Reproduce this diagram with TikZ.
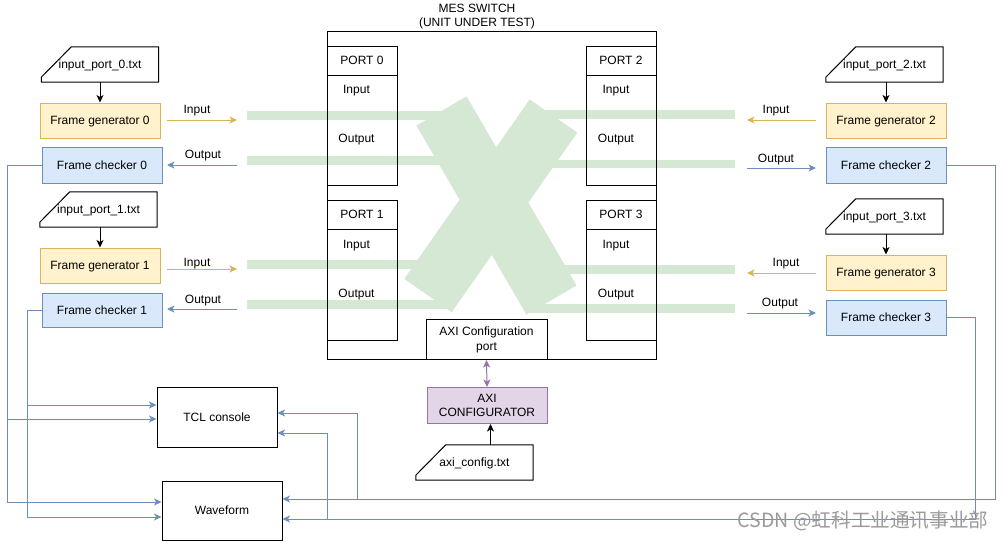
\documentclass[tikz,border=0pt]{standalone}
\usepackage{fontspec}
\setmainfont{Liberation Sans}
\newfontfamily\cjkfont{Noto Sans CJK SC}
\usetikzlibrary{arrows.meta,calc}
\definecolor{ylwfill}{HTML}{FFF2CC}
\definecolor{ylwline}{HTML}{D6B656}
\definecolor{bluefill}{HTML}{DAE8FC}
\definecolor{blueline}{HTML}{6C8EBF}
\definecolor{purfill}{HTML}{E1D5E7}
\definecolor{purline}{HTML}{9673A6}
\definecolor{xgreen}{HTML}{D5E8D4}
\definecolor{wmgray}{HTML}{9A9A9A}
\tikzset{
  oneline/.style={text height=11pt, text depth=2.4pt},
  box/.style={draw, line width=1pt, inner sep=0pt, align=center},
  genbox/.style={box, oneline, draw=ylwline, fill=ylwfill, minimum width=120pt, minimum height=35pt},
  chkbox/.style={box, oneline, draw=blueline, fill=bluefill, minimum width=120pt, minimum height=35pt},
  filebox/.style={oneline, inner sep=0pt, minimum width=117pt, minimum height=35pt},
  tip/.style={-{Stealth[length=7.5pt,width=7pt,inset=2pt]}},
  blk/.style={tip, line width=1pt, draw=black},
  yarr/.style={tip, line width=1pt, draw=ylwline, color=ylwline},
  barr/.style={tip, line width=1pt, draw=blueline, color=blueline},
  lbl/.style={inner sep=0pt, oneline},
}
\begin{document}
\begin{tikzpicture}[x=1pt,y=-1pt,font=\fontsize{12}{14}\selectfont]
\useasboundingbox[fill=white] (0,0) rectangle (1004,541);

% ---- green crossbar (decoration) ----
\fill[xgreen] (247,111) rectangle (460,120);
\fill[xgreen] (247,156) rectangle (450,165);
\fill[xgreen] (247,260) rectangle (440,269);
\fill[xgreen] (247,300) rectangle (450,309);
\fill[xgreen] (530,110) rectangle (735,119);
\fill[xgreen] (540,160) rectangle (735,168);
\fill[xgreen] (540,265) rectangle (735,274);
\fill[xgreen] (530,304) rectangle (735,313);
\draw[xgreen, line width=58pt] (441.5,111) -- (551.5,300);
\draw[xgreen, line width=58pt] (553.5,116) -- (428,295.5);

% ---- switch ----
\node[box, minimum width=329pt, minimum height=328pt] (sw) at (491.5,195) {};
\node[inner sep=0pt, align=center] (title) at (477,17) {MES SWITCH\\(UNIT UNDER TEST)};

\node[box, oneline, minimum width=70pt, minimum height=29pt] (p0h) at (362,60.5) {PORT 0};
\node[box, minimum width=70pt, minimum height=110pt] (p0b) at (362,130) {};
\node[box, oneline, minimum width=70pt, minimum height=29pt] (p1h) at (362,214.5) {PORT 1};
\node[box, minimum width=70pt, minimum height=111pt] (p1b) at (362,284.5) {};
\node[box, oneline, minimum width=70pt, minimum height=29pt] (p2h) at (621,60.5) {PORT 2};
\node[box, minimum width=70pt, minimum height=110pt] (p2b) at (621,130) {};
\node[box, oneline, minimum width=70pt, minimum height=29pt] (p3h) at (621,214.5) {PORT 3};
\node[box, minimum width=70pt, minimum height=111pt] (p3b) at (621,284.5) {};

\node[lbl] (p0i) at (356.5,89) {Input};
\node[lbl] (p0o) at (356.5,138) {Output};
\node[lbl] (p1i) at (356.5,244) {Input};
\node[lbl] (p1o) at (356.5,293) {Output};
\node[lbl] (p2i) at (616,89) {Input};
\node[lbl] (p2o) at (616,138) {Output};
\node[lbl] (p3i) at (616,244) {Input};
\node[lbl] (p3o) at (616,293) {Output};

\node[box, fill=white, minimum width=121pt, minimum height=40pt, font=\fontsize{12}{15}\selectfont] (axp) at (486.5,339.5) {AXI Configuration\\port};
\node[box, draw=purline, fill=purfill, minimum width=120pt, minimum height=36pt, font=\fontsize{12}{13.5}\selectfont] (axi) at (487,405.5) {AXI\\CONFIGURATOR};
\draw[line width=1pt, draw=purline, {Stealth[length=7.5pt,width=7pt,inset=2pt]}-{Stealth[length=7.5pt,width=7pt,inset=2pt]}, color=purline] (axp.south) -- (axi.north);

% ---- files ----
\node[filebox] (f0) at (100,64.5) {input\_port\_0.txt};
\node[filebox] (f1) at (98.5,209.5) {input\_port\_1.txt};
\node[filebox] (f2) at (884.5,64.5) {input\_port\_2.txt};
\node[filebox] (f3) at (884.5,216.5) {input\_port\_3.txt};
\node[filebox] (fa) at (474.5,462.5) {axi\_config.txt};
\foreach \f in {f0,f1,f2,f3,fa}
  \draw[line width=1pt] ($(\f.north west)+(30,0)$) -- (\f.north east) -- (\f.south east) -- (\f.south west) -- ($(\f.south west)+(0,-5)$) -- cycle;

% ---- generators / checkers ----
\node[genbox] (fg0) at (100,120.5) {Frame generator 0};
\node[chkbox, minimum height=36pt] (fc0) at (102,165) {Frame checker 0};
\node[genbox] (fg1) at (100,265.5) {Frame generator 1};
\node[chkbox, minimum height=34pt] (fc1) at (102,310) {Frame checker 1};
\node[genbox] (fg2) at (886,120.5) {Frame generator 2};
\node[chkbox, minimum height=36pt] (fc2) at (886,165) {Frame checker 2};
\node[genbox] (fg3) at (886,272.5) {Frame generator 3};
\node[chkbox] (fc3) at (886,317.5) {Frame checker 3};

\draw[blk] (f0.south) -- (fg0.north);
\draw[blk] (f1.south -| fg1.north) -- (fg1.north);
\draw[blk] (f2.south -| fg2.north) -- (fg2.north);
\draw[blk] (f3.south -| fg3.north) -- (fg3.north);
\coordinate (axin) at ($(axi.south)+(3.5,0)$);
\draw[blk] (fa.north -| axin) -- (axin);

% ---- input / output arrows ----
\coordinate (a0s) at (167,120); \coordinate (a0e) at (237,120);
\coordinate (b0s) at (237,165); \coordinate (b0e) at (167,165);
\coordinate (a1s) at (167,269); \coordinate (a1e) at (237,269);
\coordinate (b1s) at (237,309); \coordinate (b1e) at (167,309);
\coordinate (a2s) at (816,120); \coordinate (a2e) at (747,120);
\coordinate (b2s) at (747,168); \coordinate (b2e) at (816,168);
\coordinate (a3s) at (816,273); \coordinate (a3e) at (747,273);
\coordinate (b3s) at (747,313); \coordinate (b3e) at (816,313);
\draw[yarr] (a0s) -- (a0e);
\draw[barr] (b0s) -- (b0e);
\draw[yarr] (a1s) -- (a1e);
\draw[barr] (b1s) -- (b1e);
\draw[yarr] (a2s) -- (a2e);
\draw[barr] (b2s) -- (b2e);
\draw[yarr] (a3s) -- (a3e);
\draw[barr] (b3s) -- (b3e);
\node[lbl] (la0) at (197,109) {Input};
\node[lbl] (lb0) at (203,154) {Output};
\node[lbl] (la1) at (197,262) {Input};
\node[lbl] (lb1) at (203,299) {Output};
\node[lbl] (la2) at (776,109) {Input};
\node[lbl] (lb2) at (776,158) {Output};
\node[lbl] (la3) at (786,262) {Input};
\node[lbl] (lb3) at (780,302) {Output};

% ---- TCL console / waveform ----
\node[box, oneline, minimum width=120pt, minimum height=60pt] (tcl) at (217,417) {TCL console};
\node[box, oneline, minimum width=120pt, minimum height=59pt] (wave) at (222,510.5) {Waveform};

\coordinate (railA) at (7,502);
\coordinate (railB) at (27,517);
\coordinate (railC) at (995,499);
\coordinate (railD) at (975,519);
\coordinate (brA) at (7,419);
\coordinate (brB) at (27,405);
\coordinate (brC) at (357,499);
\coordinate (brD) at (327,519);
\draw[barr] (fc0.west) -| (railA) -- (railA -| wave.west);
\draw[barr] (brA) -- (brA -| tcl.west);
\draw[barr] (fc1.west) -| (railB) -- (railB -| wave.west);
\draw[barr] (brB) -- (brB -| tcl.west);
\draw[barr] (fc2.east) -| (railC) -- (railC -| wave.east);
\draw[barr] (brC) |- ($(tcl.east)+(0,-4)$);
\draw[barr] (fc3.east) -| (railD) -- (railD -| wave.east);
\draw[barr] (brD) |- ($(tcl.east)+(0,16)$);

% ---- watermark ----
\node[inner sep=0pt, text=wmgray, font=\cjkfont\fontsize{19.6}{21}\selectfont] (wm) at (863,521) {CSDN @虹科工业通讯事业部};
\end{tikzpicture}
\end{document}
